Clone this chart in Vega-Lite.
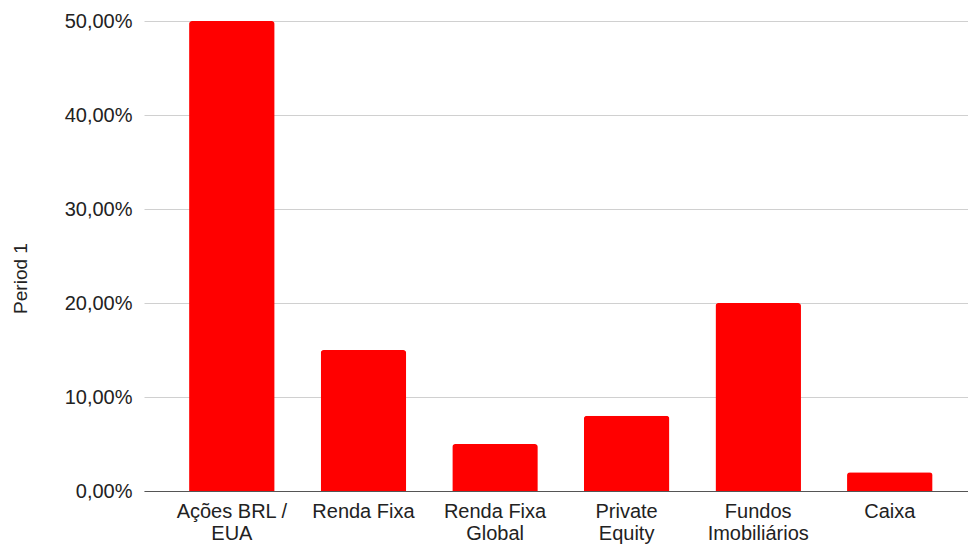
{
  "$schema": "https://vega.github.io/schema/vega-lite/v6.json",
  "width": 824,
  "height": 470,
  "autosize": {"type": "none"},
  "padding": {"left": 144, "top": 21, "right": 0, "bottom": 53},
  "background": "white",
  "config": {
    "font": "Liberation Sans",
    "view": {"stroke": null}
  },
  "data": {
    "values": [
      {"asset": "Ações BRL / EUA", "Period 1": 50},
      {"asset": "Renda Fixa", "Period 1": 15},
      {"asset": "Renda Fixa Global", "Period 1": 5},
      {"asset": "Private Equity", "Period 1": 8},
      {"asset": "Fundos Imobiliários", "Period 1": 20},
      {"asset": "Caixa", "Period 1": 2}
    ]
  },
  "mark": {"type": "bar", "color": "#ff0000", "cornerRadiusTopLeft": 3, "cornerRadiusTopRight": 3},
  "encoding": {
    "x": {
      "field": "asset",
      "type": "nominal",
      "sort": null,
      "scale": {"paddingInner": 0.35, "paddingOuter": 0.306, "align": 0.56},
      "axis": {
        "title": null,
        "labelAngle": 0,
        "labelFontSize": 20,
        "labelColor": "#222222",
        "labelLineHeight": 22.5,
        "labelBaseline": "top",
        "labelPadding": 10,
        "labelLimit": 0,
        "ticks": false,
        "tickSize": 0,
        "domainColor": "#555555",
        "domainWidth": 1,
        "labelExpr": "datum.value == 'Ações BRL / EUA' ? ['Ações BRL /', 'EUA'] : datum.value == 'Renda Fixa Global' ? ['Renda Fixa', 'Global'] : datum.value == 'Private Equity' ? ['Private', 'Equity'] : datum.value == 'Fundos Imobiliários' ? ['Fundos', 'Imobiliários'] : datum.value"
      }
    },
    "y": {
      "field": "Period 1",
      "type": "quantitative",
      "scale": {"domain": [0, 50], "nice": false},
      "axis": {
        "title": "Period 1",
        "titleFontSize": 19,
        "titleFontWeight": "normal",
        "titleColor": "#222222",
        "titleAngle": -90,
        "titleAlign": "center",
        "titleBaseline": "middle",
        "titleX": -124,
        "titleY": 257,
        "values": [0, 10, 20, 30, 40, 50],
        "labelFontSize": 20,
        "labelColor": "#222222",
        "labelPadding": 12,
        "ticks": false,
        "tickSize": 0,
        "domain": false,
        "gridColor": "#d0d0d0",
        "gridWidth": 1,
        "labelExpr": "replace(format(datum.value, '.2f'), '.', ',') + '%'"
      }
    }
  }
}
